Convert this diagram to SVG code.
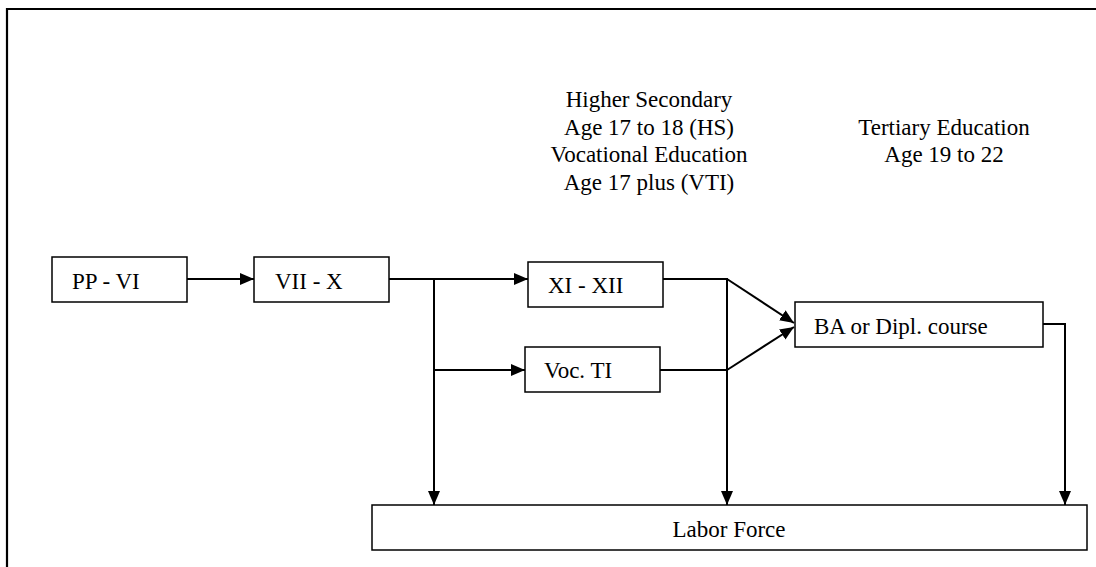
<svg xmlns="http://www.w3.org/2000/svg" width="1096" height="567" viewBox="0 0 1096 567">
<style>
.box{fill:#fff;stroke:#000;stroke-width:1.5}
.t{font-family:"Liberation Serif","Times New Roman",serif;font-size:23px;fill:#000}
.c{text-anchor:middle}
.ln{fill:none;stroke:#000;stroke-width:2}
</style>
<defs>
<marker id="ah" viewBox="0 0 14 12" refX="14" refY="6" markerWidth="14" markerHeight="12" markerUnits="userSpaceOnUse" orient="auto">
<path d="M0,0 L14,6 L0,12 Z" fill="#000"/>
</marker>
</defs>
<rect width="1096" height="567" fill="#fff"/>
<path d="M7,567 L7,9 L1096,9" fill="none" stroke="#000" stroke-width="2.2"/>
<g id="label-hs">
<text class="t c" x="649" y="107">Higher Secondary</text>
<text class="t c" x="649" y="135">Age 17 to 18 (HS)</text>
<text class="t c" x="649" y="162">Vocational Education</text>
<text class="t c" x="649" y="190">Age 17 plus (VTI)</text>
</g>
<g id="label-tertiary">
<text class="t c" x="944" y="135">Tertiary Education</text>
<text class="t c" x="944" y="162">Age 19 to 22</text>
</g>
<g id="connectors">
<line class="ln" x1="187" y1="279" x2="254" y2="279" marker-end="url(#ah)"/>
<line class="ln" x1="389" y1="279" x2="528" y2="279" marker-end="url(#ah)"/>
<line class="ln" x1="434" y1="279" x2="434" y2="505" marker-end="url(#ah)"/>
<line class="ln" x1="434" y1="370" x2="525" y2="370" marker-end="url(#ah)"/>
<polyline class="ln" points="663,279 727,279 727,505" marker-end="url(#ah)"/>
<line class="ln" x1="659" y1="370" x2="727" y2="370"/>
<line class="ln" x1="727" y1="279" x2="794" y2="323" marker-end="url(#ah)"/>
<line class="ln" x1="727" y1="370" x2="794" y2="327" marker-end="url(#ah)"/>
<polyline class="ln" points="1042,324 1065,324 1065,505" marker-end="url(#ah)"/>
</g>
<g id="pp-vi"><rect class="box" x="52" y="257" width="135" height="45"/><text class="t" x="72" y="289">PP - VI</text></g>
<g id="vii-x"><rect class="box" x="254" y="257" width="135" height="45"/><text class="t" x="275" y="289">VII - X</text></g>
<g id="xi-xii"><rect class="box" x="528" y="262" width="135" height="45"/><text class="t" x="548" y="293">XI - XII</text></g>
<g id="voc-ti"><rect class="box" x="525" y="347" width="135" height="45"/><text class="t" x="544" y="378">Voc. TI</text></g>
<g id="ba"><rect class="box" x="795" y="302" width="248" height="45"/><text class="t" x="814" y="334">BA or Dipl. course</text></g>
<g id="labor"><rect class="box" x="372" y="505" width="715" height="45"/><text class="t c" x="729" y="537">Labor Force</text></g>
</svg>
